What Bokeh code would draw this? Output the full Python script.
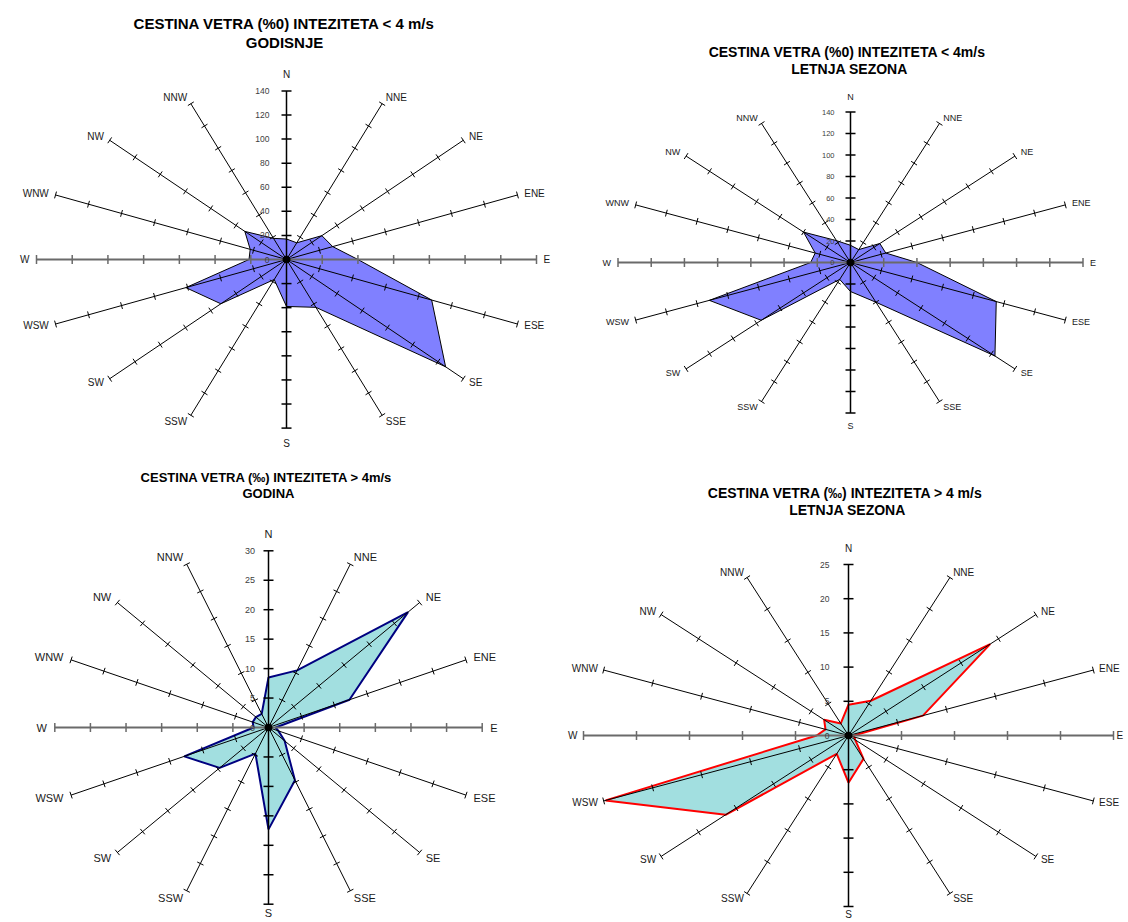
import numpy as np
from bokeh.plotting import figure
from bokeh.layouts import gridplot
from bokeh.models import Range1d
from bokeh.core.properties import value
from bokeh.embed import file_html
from bokeh.resources import INLINE

# ---------------- data ----------------
directions = ["N", "NNE", "NE", "ENE", "E", "ESE", "SE", "SSE",
              "S", "SSW", "SW", "WSW", "W", "WNW", "NW", "NNW"]

# frequency (per mille), wind < 4 m/s, whole year
godisnje_lt4 = [17, 15, 28, 28, 40, 88, 126, 43, 39, 18, 52, 61, 21, 22, 33, 19]
# wind < 4 m/s, summer season
letnja_lt4 = [16, 13, 25, 23, 40, 95, 123, 40, 27, 17, 76, 92, 24, 23, 40, 22]
# wind > 4 m/s, whole year
godina_gt4 = [8.5, 10.5, 27.7, 12.3, 1.0, 1.5, 3.2, 9.7, 17.3, 4.8, 9.7, 12.8, 2.1, 2.4, 2.5, 2.5]
# wind > 4 m/s, summer season
letnja_gt4 = [4.5, 5.5, 18.9, 7.6, 0.5, 0.6, 0.9, 3.7, 6.9, 2.9, 16.4, 24.8, 3.0, 2.35, 3.25, 1.9]

ticks_lt4 = [0, 20, 40, 60, 80, 100, 120, 140]
ticks_gt4_godina = [0, 5, 10, 15, 20, 25, 30]
ticks_gt4_letnja = [0, 5, 10, 15, 20, 25]

title_1 = ["CESTINA VETRA (%0) INTEZITETA < 4 m/s", "GODISNJE"]
title_2 = ["CESTINA VETRA (%0) INTEZITETA <  4m/s", "LETNJA SEZONA"]
title_3 = ["CESTINA VETRA (\u2030) INTEZITETA >  4m/s", "GODINA"]
title_4 = ["CESTINA VETRA (\u2030) INTEZITETA >  4 m/s", "LETNJA SEZONA"]

FONT = "Liberation Sans"


def make_panel(vals, ticks, titles, cfg):
    w, h, cx, cy, rx, ry = cfg["w"], cfg["h"], cfg["cx"], cfg["cy"], cfg["rx"], cfg["ry"]
    p = figure(width=w, height=h,
               x_range=Range1d(-cx / rx, (w - cx) / rx),
               y_range=Range1d(-(h - cy) / ry, cy / ry),
               x_axis_type=None, y_axis_type=None,
               toolbar_location=None, output_backend="svg",
               min_border=0, outline_line_color=None,
               background_fill_color="white", border_fill_color="white")

    def dx(px):
        return (px - cx) / rx

    def dy(py):
        return (cy - py) / ry

    vmax = ticks[-1]
    th = np.arange(16) * np.pi / 8
    s, c = np.sin(th), np.cos(th)
    r = np.array(vals, dtype=float) / vmax

    # data polygon
    p.patch(r * s, r * c, fill_color=cfg["fill"], line_color=cfg["edge"],
            line_width=cfg["edge_w"])

    # spokes
    diag = [k for k in range(16) if k % 4]
    p.segment(x0=0, y0=0, x1=s[diag], y1=c[diag], line_color="black", line_width=1)
    p.segment(x0=[0], y0=[-1], x1=[0], y1=[1], line_color="black", line_width=1.5)
    p.segment(x0=[-1], y0=[0], x1=[1], y1=[0], line_color="#6a6a6a", line_width=2)

    # tick marks, perpendicular on screen
    groups = {"diag": ([], [], [], []), "ns": ([], [], [], []), "ew": ([], [], [], [])}
    for k in range(16):
        ux, uy = s[k] * rx, c[k] * ry
        nrm = np.hypot(ux, uy)
        ux, uy = ux / nrm, uy / nrm
        if k in (0, 8):
            g, L = "ns", 5.0
        elif k in (4, 12):
            g, L = "ew", 4.5
        else:
            g, L = "diag", 3.5
        ddx, ddy = -uy * L / rx, ux * L / ry
        for t in ticks[1:]:
            fx, fy = t / vmax * s[k], t / vmax * c[k]
            G = groups[g]
            G[0].append(fx - ddx); G[1].append(fy - ddy)
            G[2].append(fx + ddx); G[3].append(fy + ddy)
    p.segment(*groups["diag"], line_color="black", line_width=1)
    p.segment(*groups["ns"], line_color="black", line_width=1.5)
    p.segment(*groups["ew"], line_color="#6a6a6a", line_width=1.5)

    p.scatter([0], [0], size=7, color="black")

    # value labels along N axis
    tx = [-cfg["tick_gap"] / rx] * len(ticks)
    ty = [t / vmax for t in ticks]
    p.text(tx, ty, text=[str(t) for t in ticks], text_align="right",
           text_baseline="middle", text_font=value(FONT),
           text_font_size=cfg["tick_fs"], text_color="#404040")

    # direction labels
    lab = {"left": ([], [], []), "right": ([], [], []), "center": ([], [], [])}
    gap = cfg["lab_gap"]
    for k in range(16):
        ux, uy = s[k] * rx, c[k] * ry
        nrm = np.hypot(ux, uy)
        ux, uy = ux / nrm, uy / nrm
        if k == 0:
            lx, ly, al = 0.0, 1 + cfg["n_gap"] / ry, "center"
        elif k == 8:
            lx, ly, al = 0.0, -1 - cfg["s_gap"] / ry, "center"
        else:
            g = cfg.get("e_gap", gap) if k == 4 else gap
            lx = s[k] + g * ux / rx
            ly = c[k] + g * uy / ry
            al = "left" if s[k] > 0 else "right"
        lab[al][0].append(lx); lab[al][1].append(ly); lab[al][2].append(directions[k])
    for al, (xs, ys, ts) in lab.items():
        p.text(xs, ys, text=ts, text_align=al, text_baseline="middle",
               text_font=value(FONT), text_font_size=cfg["lab_fs"], text_color="#1a1a1a")

    # title
    for line, ypx in zip(titles, cfg["title_y"]):
        p.text([dx(cfg["title_x"])], [dy(ypx)], text=[line], text_align="center",
               text_baseline="middle", text_font=value(FONT),
               text_font_size=cfg["title_fs"], text_font_style="bold", text_color="black")
    return p


BLUE = "#8080FF"
TEAL = "#A2DFE0"

cfg1 = dict(w=564, h=460, cx=286, cy=259, rx=250, ry=168.6, fill=BLUE, edge="black", edge_w=1,
            tick_gap=17, tick_fs="8.5px", lab_gap=7, n_gap=16, s_gap=15, lab_fs="10px",
            title_x=284, title_y=[22.5, 41.5], title_fs="15px")
cfg2 = dict(w=562, h=460, cx=286, cy=262, rx=232.5, ry=150.5, fill=BLUE, edge="black", edge_w=1,
            tick_gap=16, tick_fs="7.5px", lab_gap=7, n_gap=15, s_gap=13, lab_fs="9px",
            title_x=285, title_y=[51.5, 68.5], title_fs="14px")
cfg3 = dict(w=564, h=460, cx=268, cy=267, rx=213.7, ry=176.7, fill=TEAL, edge="#000080", edge_w=2,
            tick_gap=13.5, tick_fs="9px", lab_gap=8, n_gap=17, s_gap=9, lab_fs="11px",
            title_x=268, title_y=[17, 33], title_fs="13px")
cfg4 = dict(w=562, h=460, cx=284, cy=275, rx=265, ry=171, fill=TEAL, edge="#FF0000", edge_w=2,
            tick_gap=19, tick_fs="8.5px", lab_gap=6, e_gap=3, n_gap=16, s_gap=8, lab_fs="10px",
            title_x=283, title_y=[32.5, 49], title_fs="14px")

p1 = make_panel(godisnje_lt4, ticks_lt4, title_1, cfg1)
p2 = make_panel(letnja_lt4, ticks_lt4, title_2, cfg2)
p3 = make_panel(godina_gt4, ticks_gt4_godina, title_3, cfg3)
p4 = make_panel(letnja_gt4, ticks_gt4_letnja, title_4, cfg4)

grid = gridplot([[p1, p2], [p3, p4]], toolbar_location=None)

open("out.html", "w").write(file_html(grid, INLINE))
